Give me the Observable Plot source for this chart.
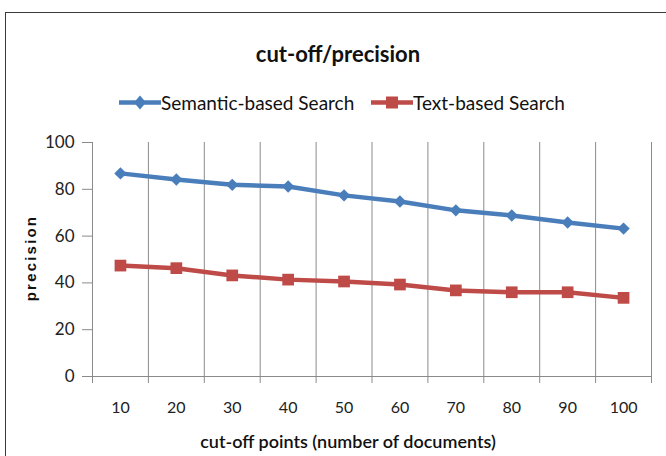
<!DOCTYPE html>
<html>
<head>
<meta charset="utf-8">
<script src="https://cdn.jsdelivr.net/npm/d3@7"></script>
<script src="https://cdn.jsdelivr.net/npm/@observablehq/plot@0.6"></script>
<style>
  html, body { margin: 0; padding: 0; background: #fff; }
  #wrap { position: relative; width: 666px; height: 456px; overflow: hidden; font-family: Lato, "Open Sans", sans-serif; }
  #frame { position: absolute; left: 5px; top: 12px; width: 700px; height: 500px; border: 1px solid #3a3a3a; box-sizing: border-box; }
  #chart { position: absolute; left: 0; top: 0; }
  #title { position: absolute; left: 338px; top: 53px; transform: translate(-50%, -50%); font-weight: bold; font-size: 22px; color: #111; white-space: nowrap; }
  .leg { position: absolute; top: 102px; transform: translateY(-50%); font-size: 19px; color: #111; display: flex; align-items: center; white-space: nowrap; }
  #ylab { position: absolute; left: 30px; top: 258px; transform: translate(-50%, -50%) rotate(-90deg); font-family: "Liberation Sans", Arial, sans-serif; font-weight: bold; font-size: 15px; letter-spacing: 2.2px; color: #111; white-space: nowrap; }
  #xlab { position: absolute; left: 348px; top: 441px; transform: translate(-50%, -50%); font-size: 18px; font-weight: 600; color: #111; white-space: nowrap; }
</style>
</head>
<body>
<div id="wrap">
  <div id="frame"></div>
  <div id="chart"></div>
  <div id="title">cut-off/precision</div>
  <div class="leg" id="leg1"></div>
  <div class="leg" id="leg2"></div>
  <div id="ylab">precision</div>
  <div id="xlab">cut-off points (number of documents)</div>
</div>
<script>
const cutoffs = [10, 20, 30, 40, 50, 60, 70, 80, 90, 100];
const semantic = [86.8, 84.2, 81.9, 81.2, 77.4, 74.8, 71.0, 68.8, 65.8, 63.2];
const textBased = [47.4, 46.3, 43.2, 41.4, 40.6, 39.3, 36.8, 36.0, 36.0, 33.6];
const yTicks = [0, 20, 40, 60, 80, 100];
const seriesNames = ["Semantic-based Search", "Text-based Search"];
const seriesColors = ["#4A7EBB", "#BE4B48"];

const boundaries = d3.range(cutoffs.length + 1).map(i => cutoffs[0] - 5 + i * 10);
const semData = cutoffs.map((c, i) => ({x: c, y: semantic[i]}));
const txtData = cutoffs.map((c, i) => ({x: c, y: textBased[i]}));

const chart = Plot.plot({
  width: 666,
  height: 456,
  marginLeft: 92,
  marginRight: 15,
  marginTop: 142,
  marginBottom: 80,
  style: {fontFamily: "Lato, 'Open Sans', sans-serif", fontSize: "16px", color: "#222", background: "transparent"},
  x: {type: "linear", domain: [boundaries[0], boundaries[boundaries.length - 1]]},
  y: {domain: [0, 100]},
  marks: [
    Plot.ruleX(boundaries.slice(1), {y1: 0, y2: 100, stroke: "#8a8a8a", strokeWidth: 1}),
    Plot.ruleX([boundaries[0]], {y1: 0, y2: 100, stroke: "#8a8a8a", strokeWidth: 1}),
    Plot.ruleY([0], {stroke: "#8a8a8a", strokeWidth: 1}),
    Plot.axisY({ticks: yTicks, tickSize: 10, tickPadding: 8, stroke: "#8a8a8a", fill: "#222", label: null, fontSize: 17}),
    Plot.axisX({ticks: boundaries, tickSize: 7, tickFormat: () => "", stroke: "#8a8a8a", label: null}),
    Plot.axisX({ticks: cutoffs, tickSize: 0, tickPadding: 25, fill: "#222", label: null, fontSize: 16}),
    Plot.line(semData, {x: "x", y: "y", stroke: seriesColors[0], strokeWidth: 4.5}),
    Plot.dot(semData, {x: "x", y: "y", symbol: "diamond2", r: 5.6, fill: seriesColors[0], stroke: "none"}),
    Plot.line(txtData, {x: "x", y: "y", stroke: seriesColors[1], strokeWidth: 4.5}),
    Plot.dot(txtData, {x: "x", y: "y", symbol: "square", r: 6.6, fill: seriesColors[1], stroke: "none"})
  ]
});
document.getElementById("chart").appendChild(chart);

function legendItem(el, left, name, color, kind) {
  el.style.left = left + "px";
  const w = 42, h = 18;
  let marker;
  if (kind === "diamond") {
    marker = `<path d="M${w/2},${h/2-7} L${w/2+6},${h/2} L${w/2},${h/2+7} L${w/2-6},${h/2} Z" fill="${color}"/>`;
  } else {
    marker = `<rect x="${w/2-6}" y="${h/2-6}" width="12" height="12" fill="${color}"/>`;
  }
  el.innerHTML = `<svg width="${w}" height="${h}"><line x1="0" y1="${h/2}" x2="${w}" y2="${h/2}" stroke="${color}" stroke-width="4.5"/>${marker}</svg><span>${name}</span>`;
}
legendItem(document.getElementById("leg1"), 119, seriesNames[0], seriesColors[0], "diamond");
legendItem(document.getElementById("leg2"), 371, seriesNames[1], seriesColors[1], "square");
</script>
</body>
</html>
